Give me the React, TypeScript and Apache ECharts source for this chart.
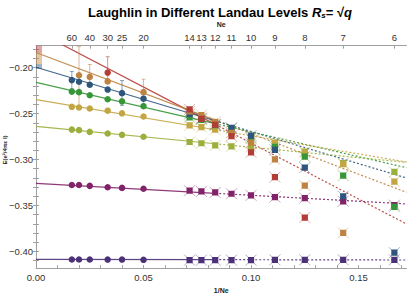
import React, { useEffect, useRef } from 'react';
import * as echarts from 'echarts';

// ---- data ----
const NE_CIRCLE = [60, 50, 40, 30, 25, 20];
const NE_SQUARE = [14, 13, 12, 11, 10, 9, 8, 7, 6];
const NE_TOP = [60, 40, 30, 25, 20, 14, 13, 12, 11, 10, 9, 8, 7, 6];

const GROUP_NAMES = ['red', 'orange', 'blue', 'green', 'mustard', 'olive', 'magenta', 'indigo'];
const COLORS = ['#B43C37', '#BE8241', '#2D557D', '#379637', '#C3A541', '#9BAF3C', '#822369', '#4B3278'];

// filled circles (large systems), Ne = 60, 50, 40, 30, 25, 20
const circRed = [null, null, null, -0.2053, null, null];
const circOrange = [null, -0.2082, -0.21, -0.2149, null, -0.2266];
const circBlue = [-0.2135, -0.2153, -0.2185, -0.2238, -0.2277, -0.2337];
const circGreen = [-0.226, -0.2266, -0.23, -0.2344, -0.2366, -0.2419];
const circMustard = [-0.2426, -0.2433, -0.2444, -0.2468, -0.2497, -0.2532];
const circOlive = [-0.2674, -0.268, -0.2699, -0.2717, -0.2731, -0.2752];
const circMagenta = [-0.3277, -0.3277, -0.3287, -0.3302, -0.3309, -0.3319];
const circIndigo = [-0.4089, -0.4089, -0.4089, -0.409, -0.409, -0.4093];

// crossed squares (small systems), Ne = 14, 13, 12, 11, 10, 9, 8, 7, 6
const sqRed = [-0.2454, -0.2557, -0.2621, -0.2745, -0.2922, -0.3192, -0.3632, null, null];
const sqOrange = [-0.2475, -0.2515, -0.259, -0.271, -0.2816, -0.2999, -0.3284, -0.38, null];
const sqBlue = [-0.2504, -0.255, -0.2615, -0.2656, -0.274, -0.2894, -0.3089, -0.34, -0.4015];
const sqGreen = [-0.254, -0.2568, -0.2625, -0.266, -0.277, -0.2862, -0.2968, -0.3175, -0.3515];
const sqMustard = [-0.2628, -0.2648, -0.2674, -0.2705, -0.276, -0.2816, -0.2925, -0.305, -0.324];
const sqOlive = [-0.2809, -0.2823, -0.2845, -0.2856, -0.2862, -0.283, -0.2915, -0.304, -0.3135];
const sqMagenta = [-0.334, -0.3348, -0.3359, -0.3373, -0.339, -0.3409, -0.342, -0.3455, -0.3497];
const sqIndigo = [-0.4096, -0.4096, -0.4096, -0.4096, -0.4096, -0.4093, -0.4093, -0.4093, -0.4093];

// fit lines: y at x = 0, at x = 1/12 (end of solid part) and at the right edge
const FIT_X = [0, 1 / 12, 0.1723];
const fitRed = [-0.16, -0.2617, -0.3702];
const fitOrange = [-0.1834, -0.2571, -0.3357];
const fitBlue = [-0.1995, -0.2578, -0.3201];
const fitGreen = [-0.216, -0.2609, -0.3089];
const fitMustard = [-0.2348, -0.2676, -0.3027];
const fitOlive = [-0.2638, -0.2828, -0.3031];
const fitMagenta = [-0.326, -0.3368, -0.3484];
const fitIndigo = [-0.4088, -0.4091, -0.4095];

// error bars on circles
const errGroup = [1, 1, 0, 2, 2, 1];
const errNe = [50, 40, 30, 60, 25, 20];
const errLow = [-0.245, -0.221, -0.2125, -0.223, -0.241, -0.241];
const errHigh = [-0.177, -0.1965, -0.188, -0.204, -0.214, -0.2125];

// extrapolation bands at 1/Ne = 0
const bandGroup = [0, 1, 2];
const bandLow = [-0.1835, -0.196, -0.2015];
const bandHigh = [-0.17, -0.1825, -0.196];
const BAND_WIDTH = 0.0028;

// axes
const X_MIN = 0;
const X_MAX = 0.1723;
const Y_MIN = -0.4183;
const Y_MAX = -0.176;
const X_LABELS = [0, 0.05, 0.1, 0.15];
const X_TICKS = [0, 0.01, 0.02, 0.03, 0.04, 0.05, 0.06, 0.07, 0.08, 0.09, 0.1, 0.11, 0.12, 0.13, 0.14, 0.15, 0.16, 0.17];
const Y_LABELS = [-0.4, -0.35, -0.3, -0.25, -0.2];
const Y_TICKS = [-0.41, -0.4, -0.39, -0.38, -0.37, -0.36, -0.35, -0.34, -0.33, -0.32, -0.31, -0.3, -0.29, -0.28, -0.27, -0.26, -0.25, -0.24, -0.23, -0.22, -0.21, -0.2, -0.19, -0.18];

const CIRCS = [circRed, circOrange, circBlue, circGreen, circMustard, circOlive, circMagenta, circIndigo];
const SQS = [sqRed, sqOrange, sqBlue, sqGreen, sqMustard, sqOlive, sqMagenta, sqIndigo];
const FITS = [fitRed, fitOrange, fitBlue, fitGreen, fitMustard, fitOlive, fitMagenta, fitIndigo];

const FONT = 'Liberation Sans';
const AXIS_COLOR = '#a0a0a0';
const LABEL_COLOR = '#333';

function fade(hex: string, a: number) {
  const n = parseInt(hex.slice(1), 16);
  return `rgba(${(n >> 16) & 255},${(n >> 8) & 255},${n & 255},${a})`;
}

function minus(v: number, digits: number) {
  return v.toFixed(digits).replace('-', '\u2212');
}

export default function App() {
  const ref = useRef<HTMLDivElement>(null);
  useEffect(() => {
    document.body.style.margin = '0';
    const chart = echarts.init(ref.current!, null, { renderer: 'svg' });

    const series: any[] = [];

    // bands at x = 0
    series.push({
      type: 'custom',
      z: 1,
      clip: true,
      data: bandGroup.map((g, i) => [X_MIN, bandLow[i], bandHigh[i], g]),
      encode: { x: 0, y: [1, 2] },
      renderItem: (_p: any, api: any) => {
        const lo = api.value(1), hi = api.value(2), g = api.value(3);
        const a = api.coord([X_MIN, hi]);
        const b = api.coord([X_MIN + BAND_WIDTH, lo]);
        return {
          type: 'rect',
          shape: { x: a[0], y: a[1], width: b[0] - a[0], height: b[1] - a[1] },
          style: { fill: fade(COLORS[g], 0.45) },
        };
      },
    });

    // fit lines
    FITS.forEach((f, g) => {
      series.push({
        type: 'line',
        z: 2,
        data: [[FIT_X[0], f[0]], [FIT_X[1], f[1]]],
        showSymbol: false,
        symbol: 'none',
        lineStyle: { color: fade(COLORS[g], 0.9), width: 1.2 },
        silent: true,
      });
      series.push({
        type: 'line',
        z: 2,
        data: [[FIT_X[1], f[1]], [FIT_X[2], f[2]]],
        showSymbol: false,
        symbol: 'none',
        lineStyle: { color: fade(COLORS[g], 0.9), width: 1.2, type: [2, 2] },
        silent: true,
      });
    });

    // error bars
    series.push({
      type: 'custom',
      z: 3,
      clip: true,
      data: errNe.map((ne, i) => [1 / ne, errLow[i], errHigh[i], errGroup[i]]),
      encode: { x: 0, y: [1, 2] },
      renderItem: (_p: any, api: any) => {
        const x = api.value(0), lo = api.value(1), hi = api.value(2), g = api.value(3);
        const p1 = api.coord([x, lo]);
        const p2 = api.coord([x, hi]);
        const st = { stroke: fade(COLORS[g], 0.55), lineWidth: 1 };
        return {
          type: 'group',
          children: [
            { type: 'line', shape: { x1: p1[0], y1: p1[1], x2: p2[0], y2: p2[1] }, style: st },
            { type: 'line', shape: { x1: p1[0] - 2, y1: p1[1], x2: p1[0] + 2, y2: p1[1] }, style: st },
            { type: 'line', shape: { x1: p2[0] - 2, y1: p2[1], x2: p2[0] + 2, y2: p2[1] }, style: st },
          ],
        };
      },
    });

    // circles
    CIRCS.forEach((c, g) => {
      series.push({
        type: 'scatter',
        z: 4,
        symbol: 'circle',
        symbolSize: 6.5,
        itemStyle: { color: COLORS[g], opacity: 1 },
        data: NE_CIRCLE.map((ne, i) => (c[i] == null ? null : [1 / ne, c[i]])).filter((d) => d),
      });
    });

    // crossed squares (red drawn last, on top)
    const sqData: any[] = [];
    for (let g = SQS.length - 1; g >= 0; g--) {
      NE_SQUARE.forEach((ne, i) => {
        if (SQS[g][i] != null) sqData.push([1 / ne, SQS[g][i], g]);
      });
    }
    series.push({
      type: 'custom',
      z: 5,
      clip: true,
      data: sqData,
      encode: { x: 0, y: 1 },
      renderItem: (_p: any, api: any) => {
        const p = api.coord([api.value(0), api.value(1)]);
        const g = api.value(2);
        const c = COLORS[g];
        const d = 5.5, s = 3.1;
        const xs = { stroke: fade(c, 0.45), lineWidth: 0.9 };
        return {
          type: 'group',
          children: [
            { type: 'line', shape: { x1: p[0] - d, y1: p[1] - d, x2: p[0] + d, y2: p[1] + d }, style: xs },
            { type: 'line', shape: { x1: p[0] - d, y1: p[1] + d, x2: p[0] + d, y2: p[1] - d }, style: xs },
            { type: 'rect', shape: { x: p[0] - s, y: p[1] - s, width: 2 * s, height: 2 * s }, style: { fill: c } },
          ],
        };
      },
    });

    const option: any = {
      animation: false,
      backgroundColor: '#fff',
      title: {
        text: '{a|Laughlin in Different Landau Levels }{r|R}{s|s}{a|= \u221A}{q|q}',
        left: 83,
        top: 0,
        textStyle: {
          rich: {
            a: { fontFamily: FONT, fontWeight: 'bold', fontSize: 13, color: '#000' },
            r: { fontFamily: FONT, fontWeight: 'bold', fontStyle: 'italic', fontSize: 13, color: '#000' },
            s: { fontFamily: FONT, fontWeight: 'bold', fontStyle: 'italic', fontSize: 8, color: '#000', padding: [6, 0, 0, 0] },
            q: { fontFamily: FONT, fontWeight: 'bold', fontStyle: 'italic', fontSize: 13, color: '#000' },
          },
        },
      },
      grid: { left: 36, right: 0.5, top: 45.7, bottom: 25.7 },
      xAxis: [
        {
          type: 'value',
          position: 'bottom',
          min: X_MIN,
          max: X_MAX,
          name: '1/Ne',
          nameLocation: 'middle',
          nameGap: 18,
          nameTextStyle: { fontFamily: FONT, fontWeight: 'bold', fontSize: 7, color: '#222' },
          axisLine: { show: true, lineStyle: { color: AXIS_COLOR, width: 1 } },
          axisTick: { show: true, inside: true, length: 3, customValues: X_TICKS, lineStyle: { color: AXIS_COLOR } },
          axisLabel: {
            customValues: X_LABELS,
            formatter: (v: number) => v.toFixed(2),
            fontFamily: FONT,
            fontSize: 9.5,
            color: LABEL_COLOR,
            margin: 4,
          },
          splitLine: { show: false },
        },
        {
          type: 'value',
          position: 'top',
          min: X_MIN,
          max: X_MAX,
          name: 'Ne',
          nameLocation: 'middle',
          nameGap: 17,
          nameTextStyle: { fontFamily: FONT, fontWeight: 'bold', fontSize: 7, color: '#222' },
          axisLine: { show: true, lineStyle: { color: AXIS_COLOR, width: 1 } },
          axisTick: { show: true, inside: true, length: 3, customValues: NE_TOP.map((n) => 1 / n), lineStyle: { color: AXIS_COLOR } },
          axisLabel: {
            customValues: NE_TOP.map((n) => 1 / n),
            formatter: (v: number) => String(Math.round(1 / v)),
            fontFamily: FONT,
            fontSize: 9.5,
            color: LABEL_COLOR,
            margin: 3,
          },
          splitLine: { show: false },
        },
      ],
      yAxis: [
        {
          type: 'value',
          position: 'left',
          min: Y_MIN,
          max: Y_MAX,
          axisLine: { show: true, lineStyle: { color: AXIS_COLOR, width: 1 } },
          axisTick: { show: true, inside: true, length: 3, customValues: Y_TICKS, lineStyle: { color: AXIS_COLOR } },
          axisLabel: {
            customValues: Y_LABELS,
            formatter: (v: number) => minus(v, 2),
            fontFamily: FONT,
            fontSize: 9.5,
            color: LABEL_COLOR,
            margin: 3,
          },
          splitLine: { show: false },
        },
        {
          type: 'value',
          position: 'right',
          min: Y_MIN,
          max: Y_MAX,
          axisLine: { show: true, lineStyle: { color: AXIS_COLOR, width: 1 } },
          axisTick: { show: true, inside: true, length: 3, customValues: Y_TICKS, lineStyle: { color: AXIS_COLOR } },
          axisLabel: { show: false },
          splitLine: { show: false },
        },
      ],
      graphic: [
        {
          type: 'text',
          x: 5,
          y: 150,
          rotation: Math.PI / 2,
          style: {
            text: 'E(e\u00B2/4\u03C0\u03B5 l)',
            font: `bold 6px "${FONT}"`,
            fill: '#222',
            align: 'center',
            verticalAlign: 'middle',
          },
        },
      ],
      series,
    };

    chart.setOption(option);
    return () => chart.dispose();
  }, []);

  return <div ref={ref} style={{ width: 407, height: 299 }} />;
}
